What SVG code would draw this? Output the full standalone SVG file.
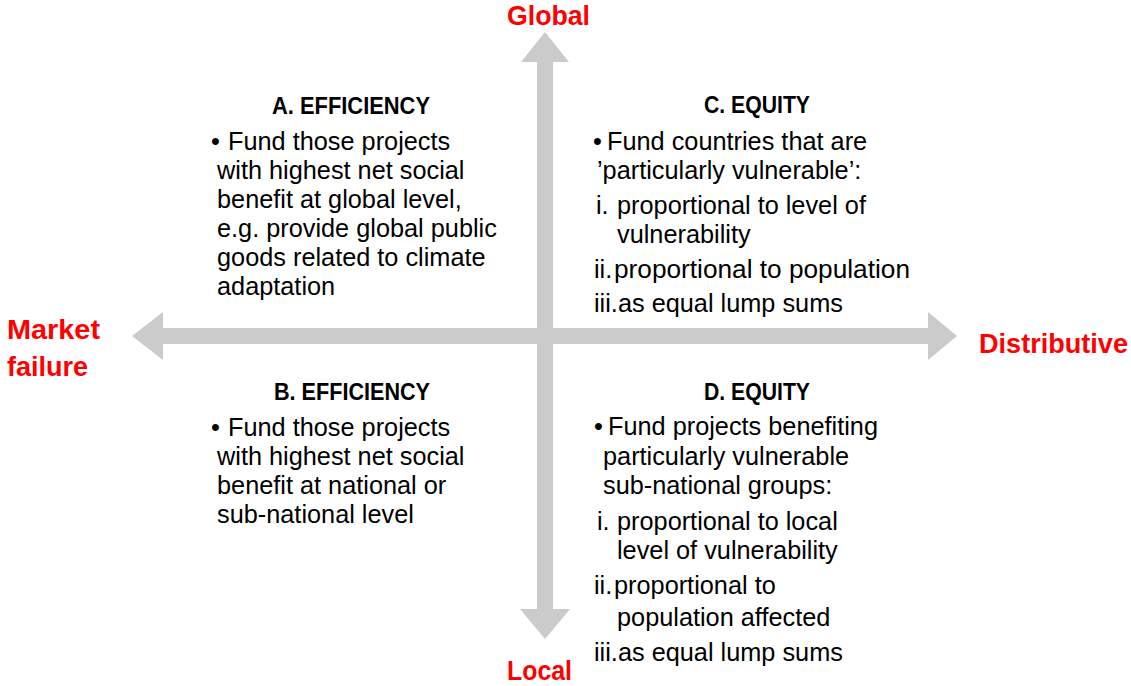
<svg xmlns="http://www.w3.org/2000/svg" width="1131" height="686" viewBox="0 0 1131 686">
<style>
.t{font-family:"Liberation Sans",Arial,sans-serif;font-size:25.3px;fill:#000}
.h{font-family:"Liberation Sans",Arial,sans-serif;font-size:24.5px;font-weight:bold;fill:#000}
.ax{font-family:"Liberation Sans",Arial,sans-serif;font-size:27px;font-weight:bold;fill:#ff0000}
.arr{fill:#cbcbcb}
</style>
<rect width="1131" height="686" fill="#fff"/>
<g id="connectors">
<polygon class="arr" points="132,336 163,312 163,328 928,328 928,312 957,336 928,360 928,344 163,344 163,360"/>
<polygon class="arr" points="545,32 569,62 553,62 553,609 570,609 545,639 520,609 537,609 537,62 521,62"/>
</g>
<g id="label-global"><text class="ax" x="507" y="25" textLength="83" lengthAdjust="spacingAndGlyphs">Global</text></g>
<g id="label-local"><text class="ax" x="507" y="680" textLength="65" lengthAdjust="spacingAndGlyphs">Local</text></g>
<g id="label-market-failure">
<text class="ax" x="7" y="339" textLength="93" lengthAdjust="spacingAndGlyphs">Market</text>
<text class="ax" x="7" y="376" textLength="81" lengthAdjust="spacingAndGlyphs">failure</text>
</g>
<g id="label-distributive"><text class="ax" x="979" y="353" textLength="149" lengthAdjust="spacingAndGlyphs">Distributive</text></g>
<g id="quadrant-a">
<text class="h" x="272" y="114" textLength="158" lengthAdjust="spacingAndGlyphs">A. EFFICIENCY</text>
<text class="t" x="211" y="150">•</text><text class="t" x="228" y="150">Fund those projects</text>
<text class="t" x="217" y="179">with highest net social</text>
<text class="t" x="217" y="208">benefit at global level,</text>
<text class="t" x="217" y="237">e.g. provide global public</text>
<text class="t" x="217" y="266">goods related to climate</text>
<text class="t" x="217" y="295">adaptation</text>
</g>
<g id="quadrant-b">
<text class="h" x="274" y="400" textLength="156" lengthAdjust="spacingAndGlyphs">B. EFFICIENCY</text>
<text class="t" x="211" y="436">•</text><text class="t" x="228" y="436">Fund those projects</text>
<text class="t" x="217" y="465">with highest net social</text>
<text class="t" x="217" y="494">benefit at national or</text>
<text class="t" x="217" y="523">sub-national level</text>
</g>
<g id="quadrant-c">
<text class="h" x="704" y="113" textLength="106" lengthAdjust="spacingAndGlyphs">C. EQUITY</text>
<text class="t" x="593" y="150">•</text><text class="t" x="607" y="150">Fund countries that are</text>
<text class="t" x="597" y="179">’particularly vulnerable’:</text>
<text class="t" x="596" y="214">i.</text><text class="t" x="617" y="214">proportional to level of</text>
<text class="t" x="617" y="243">vulnerability</text>
<text class="t" x="594" y="278">ii.</text><text class="t" x="614" y="278" textLength="296" lengthAdjust="spacingAndGlyphs">proportional to population</text>
<text class="t" x="594" y="312">iii.as equal lump sums</text>
</g>
<g id="quadrant-d">
<text class="h" x="704" y="400" textLength="106" lengthAdjust="spacingAndGlyphs">D. EQUITY</text>
<text class="t" x="594" y="435">•</text><text class="t" x="608" y="435">Fund projects benefiting</text>
<text class="t" x="603" y="465">particularly vulnerable</text>
<text class="t" x="603" y="494">sub-national groups:</text>
<text class="t" x="597" y="530">i.</text><text class="t" x="617" y="530">proportional to local</text>
<text class="t" x="617" y="559">level of vulnerability</text>
<text class="t" x="594" y="594">ii.</text><text class="t" x="614" y="594">proportional to</text>
<text class="t" x="617" y="626">population affected</text>
<text class="t" x="594" y="661">iii.as equal lump sums</text>
</g>
</svg>
